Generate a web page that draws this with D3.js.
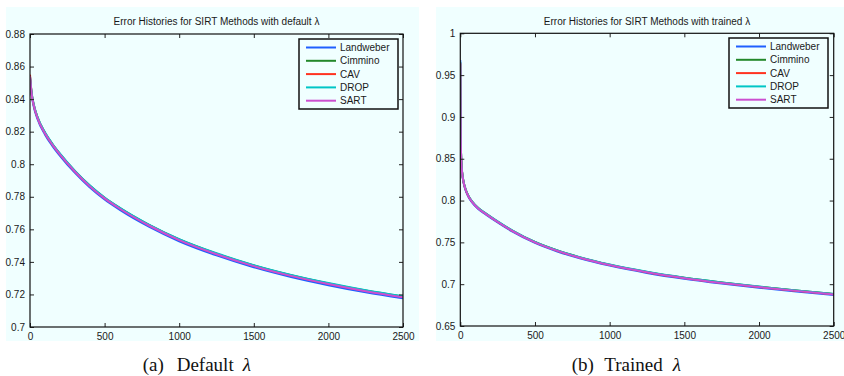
<!DOCTYPE html>
<meta charset="utf-8">
<style>
    html, body {
        margin: 0;
        background: white;
    }

    .tick text, .title, .legend text {
        font-family: "Liberation Sans", Arial, sans-serif;
        font-size: 10px;
        fill: #1a1a1a;
    }

    .caption {
        font-family: "Liberation Serif", serif;
        font-size: 19px;
        fill: #111;
    }
</style>
<div id="container"></div>
<script src="https://d3js.org/d3.v7.min.js"></script>
<script>
    // series names and colours, same for both panels
    var methods = ["Landweber", "Cimmino", "CAV", "DROP", "SART"];
    var colors = ["#1f5fff", "#23882a", "#ff3320", "#00c6c6", "#cc4fd0"];

    // panel (a): default lambda
    var itersDefault = [0, 10, 25, 50, 100, 150, 200, 300, 400, 500, 600, 800, 1000, 1250, 1500, 1750, 2000, 2250, 2500];
    var landweberDefault = [0.8530, 0.8433, 0.8355, 0.8278, 0.8183, 0.8113, 0.8053, 0.7948, 0.7858, 0.7783, 0.7721, 0.7615, 0.7527, 0.7440, 0.7367, 0.7307, 0.7257, 0.7213, 0.7176];
    var cimminoDefault = [0.8540, 0.8444, 0.8366, 0.8289, 0.8194, 0.8124, 0.8064, 0.7959, 0.7869, 0.7794, 0.7732, 0.7626, 0.7538, 0.7451, 0.7378, 0.7318, 0.7268, 0.7224, 0.7187];
    var cavDefault = [0.8550, 0.8442, 0.8364, 0.8287, 0.8192, 0.8122, 0.8062, 0.7957, 0.7867, 0.7792, 0.7730, 0.7624, 0.7536, 0.7449, 0.7376, 0.7316, 0.7266, 0.7222, 0.7185];
    var dropDefault = [0.8535, 0.8446, 0.8368, 0.8291, 0.8196, 0.8126, 0.8066, 0.7961, 0.7871, 0.7796, 0.7734, 0.7628, 0.7540, 0.7453, 0.7380, 0.7320, 0.7270, 0.7226, 0.7189];
    var sartDefault = [0.8540, 0.8440, 0.8362, 0.8285, 0.8190, 0.8120, 0.8060, 0.7955, 0.7865, 0.7790, 0.7728, 0.7622, 0.7534, 0.7447, 0.7374, 0.7314, 0.7264, 0.7220, 0.7183];

    // panel (b): trained lambda
    var itersTrained = [0, 1, 2, 3, 5, 8, 12, 20, 35, 55, 80, 120, 170, 250, 350, 500, 650, 800, 1000, 1250, 1500, 1750, 2000, 2250, 2500];
    var landweberTrained = [0.9680, 0.9260, 0.8950, 0.8745, 0.8553, 0.8423, 0.8331, 0.8231, 0.8126, 0.8042, 0.7975, 0.7899, 0.7834, 0.7738, 0.7628, 0.7493, 0.7391, 0.7310, 0.7222, 0.7135, 0.7065, 0.7008, 0.6958, 0.6913, 0.6871];
    var cimminoTrained = [0.9650, 0.9255, 0.8955, 0.8754, 0.8564, 0.8434, 0.8342, 0.8242, 0.8137, 0.8053, 0.7986, 0.7910, 0.7845, 0.7749, 0.7639, 0.7504, 0.7402, 0.7321, 0.7233, 0.7146, 0.7076, 0.7019, 0.6969, 0.6924, 0.6882];
    var cavTrained = [0.9640, 0.9252, 0.8952, 0.8752, 0.8562, 0.8432, 0.8340, 0.8240, 0.8135, 0.8051, 0.7984, 0.7908, 0.7843, 0.7747, 0.7637, 0.7502, 0.7400, 0.7319, 0.7231, 0.7144, 0.7074, 0.7017, 0.6967, 0.6922, 0.6880];
    var dropTrained = [0.9660, 0.9258, 0.8958, 0.8756, 0.8566, 0.8436, 0.8344, 0.8244, 0.8139, 0.8055, 0.7988, 0.7912, 0.7847, 0.7751, 0.7641, 0.7506, 0.7404, 0.7323, 0.7235, 0.7148, 0.7078, 0.7021, 0.6971, 0.6926, 0.6884];
    var sartTrained = [0.9650, 0.9250, 0.8950, 0.8750, 0.8560, 0.8430, 0.8338, 0.8238, 0.8133, 0.8049, 0.7982, 0.7906, 0.7841, 0.7745, 0.7635, 0.7500, 0.7398, 0.7317, 0.7229, 0.7142, 0.7072, 0.7015, 0.6965, 0.6920, 0.6878];

    // axis ticks
    var xTicks = [0, 500, 1000, 1500, 2000, 2500];
    var yTicksDefault = [0.7, 0.72, 0.74, 0.76, 0.78, 0.8, 0.82, 0.84, 0.86, 0.88];
    var yTicksTrained = [0.65, 0.7, 0.75, 0.8, 0.85, 0.9, 0.95, 1];

    var svg = d3.select("#container").append("svg")
        .attr("width", 844)
        .attr("height", 376);

    function drawPanel(p) {
        var g = svg.append("g");

        // figure background
        g.append("rect")
            .attr("x", p.bg[0]).attr("y", p.bg[1])
            .attr("width", p.bg[2]).attr("height", p.bg[3])
            .attr("fill", "#f0ffff");

        var x = d3.scaleLinear().domain([0, 2500]).range([p.left, p.right]);
        var y = d3.scaleLinear().domain(p.yDomain).range([p.bottom, p.top]);

        // curves, drawn in order so SART ends up on top
        var line = d3.line()
            .x(function(d) { return x(d[0]); })
            .y(function(d) { return y(d[1]); })
            .curve(d3.curveMonotoneX);
        var clip = "clip" + p.id;
        g.append("clipPath").attr("id", clip).append("rect")
            .attr("x", p.left).attr("y", p.top)
            .attr("width", p.right - p.left).attr("height", p.bottom - p.top);
        p.series.forEach(function(vals, i) {
            g.append("path")
                .datum(p.iters.map(function(it, j) { return [it, vals[j]]; }))
                .attr("clip-path", "url(#" + clip + ")")
                .attr("fill", "none")
                .attr("stroke", colors[i])
                .attr("stroke-width", 2)
                .attr("d", line);
        });

        // axes, matlab style: ticks pointing inward on all four sides
        var fmt = function(d) { return String(+d.toFixed(2)); };
        g.append("g").attr("transform", "translate(0," + p.bottom + ")")
            .call(d3.axisBottom(x).tickValues(xTicks).tickSizeInner(-4).tickSizeOuter(0).tickPadding(6).tickFormat(d3.format("d")));
        g.append("g").attr("transform", "translate(0," + p.top + ")")
            .call(d3.axisTop(x).tickValues(xTicks).tickSizeInner(-4).tickSizeOuter(0).tickFormat(""));
        g.append("g").attr("transform", "translate(" + p.left + ",0)")
            .call(d3.axisLeft(y).tickValues(p.yTicks).tickSizeInner(-4).tickSizeOuter(0).tickPadding(5).tickFormat(fmt));
        g.append("g").attr("transform", "translate(" + p.right + ",0)")
            .call(d3.axisRight(y).tickValues(p.yTicks).tickSizeInner(-4).tickSizeOuter(0).tickFormat(""));
        g.selectAll(".domain").remove();
        g.selectAll(".tick line").attr("stroke", "#222");
        g.append("rect")
            .attr("x", p.left).attr("y", p.top)
            .attr("width", p.right - p.left).attr("height", p.bottom - p.top)
            .attr("fill", "none").attr("stroke", "#111").attr("stroke-width", 1.2);

        // title
        g.append("text").attr("class", "title")
            .attr("x", (p.left + p.right) / 2).attr("y", 25)
            .attr("text-anchor", "middle")
            .text(p.title);

        // legend box
        var legend = g.append("g").attr("class", "legend")
            .attr("transform", "translate(" + p.legend[0] + "," + p.legend[1] + ")");
        legend.append("rect")
            .attr("width", 99).attr("height", 70)
            .attr("fill", "#f0ffff").attr("stroke", "#111").attr("stroke-width", 1.5);
        methods.forEach(function(m, i) {
            var ly = 8.5 + i * 13.3;
            legend.append("line")
                .attr("x1", 7).attr("x2", 37).attr("y1", ly).attr("y2", ly)
                .attr("stroke", colors[i]).attr("stroke-width", 2);
            legend.append("text")
                .attr("x", 41).attr("y", ly).attr("dy", "0.35em")
                .text(m);
        });

        // subfigure caption
        var cap = svg.append("text").attr("class", "caption").attr("y", 371);
        cap.append("tspan").attr("x", p.cap[0]).text(p.cap[3]);
        cap.append("tspan").attr("x", p.cap[1]).text(p.cap[4]);
        cap.append("tspan").attr("x", p.cap[2]).style("font-style", "italic").text("λ");
    }

    drawPanel({
        id: "a",
        bg: [6, 7, 413, 334],
        left: 30, right: 403, top: 34, bottom: 327,
        yDomain: [0.7, 0.88],
        yTicks: yTicksDefault,
        iters: itersDefault,
        series: [landweberDefault, cimminoDefault, cavDefault, dropDefault, sartDefault],
        title: "Error Histories for SIRT Methods with default λ",
        legend: [299, 39],
        cap: [142.7, 176.7, 242.7, "(a)", "Default"]
    });

    drawPanel({
        id: "b",
        bg: [436, 7, 408, 334],
        left: 460.3, right: 833.7, top: 33.3, bottom: 326,
        yDomain: [0.65, 1],
        yTicks: yTicksTrained,
        iters: itersTrained,
        series: [landweberTrained, cimminoTrained, cavTrained, dropTrained, sartTrained],
        title: "Error Histories for SIRT Methods with trained λ",
        legend: [729, 38],
        cap: [571.7, 604.3, 672.7, "(b)", "Trained"]
    });
</script>
